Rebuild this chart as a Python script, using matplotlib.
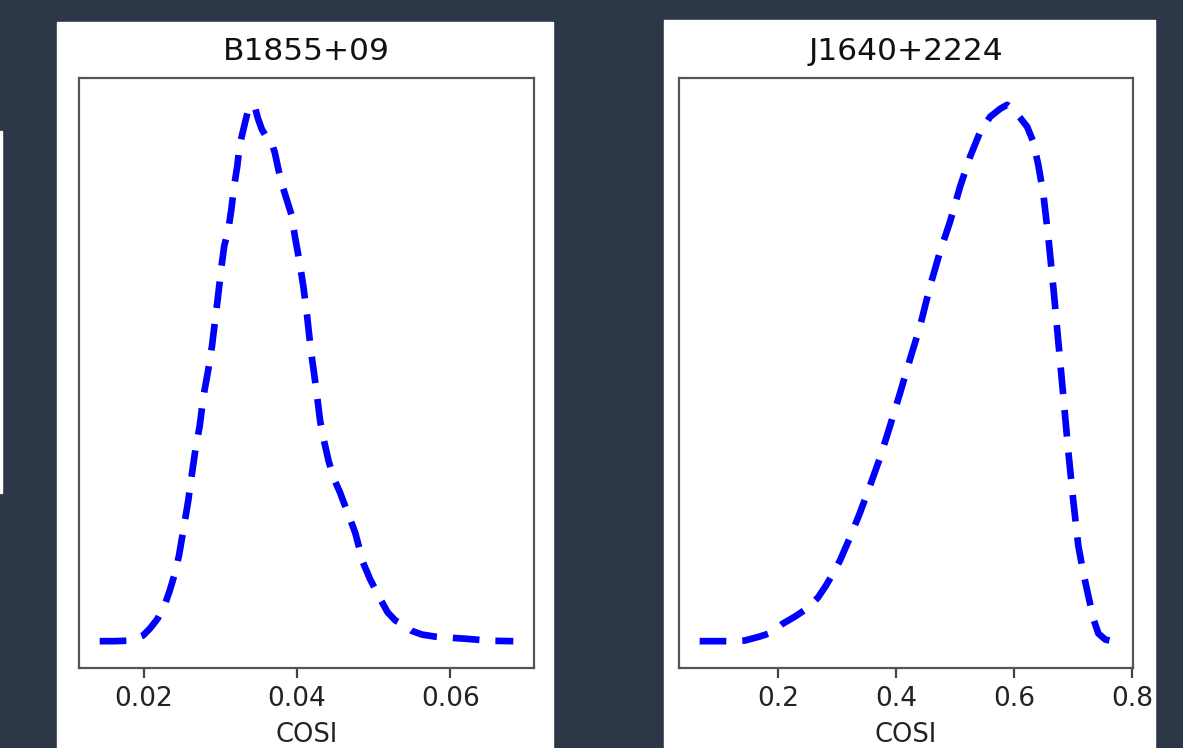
import matplotlib
matplotlib.use('Agg')
import matplotlib.pyplot as plt
from matplotlib.patches import Rectangle

# B1855+09 posterior of cos(i)
b1855_cosi = [0.01425, 0.0162, 0.0182, 0.0199, 0.0208, 0.0218, 0.0227, 0.0234, 0.0241, 0.0246,
              0.0252, 0.0258, 0.0263, 0.0268, 0.0273, 0.0278, 0.0284, 0.0289, 0.0293, 0.0297,
              0.0301, 0.0305, 0.0310, 0.0314, 0.0318, 0.0322, 0.0325, 0.0331, 0.0336, 0.0341,
              0.0345, 0.0349, 0.0354, 0.0359, 0.0366, 0.0371, 0.0376, 0.0382, 0.0387, 0.0393,
              0.0397, 0.0403, 0.0408, 0.0413, 0.0418, 0.0422, 0.0426, 0.0430, 0.0435, 0.0441,
              0.0448, 0.0456, 0.0464, 0.0469, 0.0476, 0.0481, 0.0486, 0.0495, 0.0508, 0.0518,
              0.0528, 0.0540, 0.0550, 0.0563, 0.0580, 0.0596, 0.0617, 0.0652, 0.0682]
b1855_dens = [0.05, 0.05, 0.12, 0.74, 1.6, 2.8, 4.4, 6.3, 8.5, 10.6,
              13.9, 17.3, 20.7, 24.0, 26.5, 30.2, 33.3, 36.3, 39.4, 42.5,
              45.8, 48.6, 50.4, 52.9, 56.0, 58.4, 60.9, 63.3, 65.2, 65.9,
              65.6, 64.2, 62.9, 62.1, 61.5, 60.0, 57.8, 55.6, 54.1, 52.3,
              49.8, 46.7, 43.7, 40.0, 35.7, 33.0, 30.2, 27.1, 24.7, 22.2,
              20.0, 18.3, 16.3, 15.1, 13.3, 11.5, 9.7, 7.7, 5.3, 3.6,
              2.6, 2.0, 1.3, 0.86, 0.61, 0.49, 0.37, 0.1, 0.05]

# J1640+2224 posterior of cos(i)
j1640_cosi = [0.0678, 0.1186, 0.1441, 0.1695, 0.1898, 0.2085, 0.2288, 0.2492, 0.2678, 0.2814,
              0.2932, 0.3051, 0.3220, 0.3390, 0.3559, 0.3729, 0.3898, 0.4068, 0.4237, 0.4407,
              0.4576, 0.4746, 0.4915, 0.5085, 0.5254, 0.5424, 0.5593, 0.5763, 0.5881, 0.5983,
              0.6102, 0.6220, 0.6322, 0.6407, 0.6492, 0.6576, 0.6661, 0.6746, 0.6831, 0.6915,
              0.7000, 0.7085, 0.7169, 0.7254, 0.7339, 0.7424, 0.7542, 0.7661]
j1640_dens = [0.002, 0.002, 0.0056, 0.028, 0.050, 0.100, 0.139, 0.184, 0.245, 0.312,
              0.379, 0.452, 0.580, 0.719, 0.870, 1.026, 1.204, 1.388, 1.578, 1.762,
              1.985, 2.180, 2.347, 2.543, 2.710, 2.849, 2.933, 2.978, 3.0, 2.972,
              2.927, 2.877, 2.794, 2.665, 2.504, 2.264, 1.985, 1.678, 1.372, 1.065,
              0.786, 0.535, 0.385, 0.256, 0.128, 0.045, 0.011, 0.002]

titles = ['B1855+09', 'J1640+2224']
ticks = [[0.02, 0.04, 0.06], [0.2, 0.4, 0.6, 0.8]]
tick_labels = [['0.02', '0.04', '0.06'], ['0.2', '0.4', '0.6', '0.8']]

W, H = 1183, 748
fig = plt.figure(figsize=(W / 100, H / 100), dpi=100)
fig.patch.set_facecolor('#2e3748')

def px_rect(x0, y0, x1, y1, **kw):
	# rectangle given in pixel coords (top-left origin)
	return Rectangle((x0 / W, 1 - y1 / H), (x1 - x0) / W, (y1 - y0) / H,
		transform=fig.transFigure, figure=fig, zorder=-5, **kw)

fig.patches.append(px_rect(57, 22, 553, 748, color='white'))
fig.patches.append(px_rect(664, 20, 1155, 748, color='white'))
fig.patches.append(px_rect(0, 131, 2, 493, color='white'))

axes_px = [(79, 534), (679, 1133)]
series = [(b1855_cosi, b1855_dens), (j1640_cosi, j1640_dens)]

for i, ((x0, x1), (xs, ys)) in enumerate(zip(axes_px, series)):
	ax = fig.add_axes([x0 / W, 1 - 668 / H, (x1 - x0) / W, 590 / H])
	ax.plot(xs, ys, color='blue', lw=4.8, linestyle=(0, (4.0, 2.4)))
	ax.set_yticks([])
	ax.set_xticks(ticks[i])
	ax.set_xticklabels(tick_labels[i])
	ax.tick_params(axis='x', labelsize=19, length=7, width=1.6, color='#444444',
		labelcolor='#222222', pad=6)
	for s in ax.spines.values():
		s.set_color('#555555')
		s.set_linewidth(1.6)
	ax.set_xlabel('COSI', fontsize=18.5, color='#222222', labelpad=7)
	ax.set_title(titles[i], fontsize=22.5, color='#111111', pad=13)

plt.savefig('out.png', dpi=100, facecolor=fig.get_facecolor())
